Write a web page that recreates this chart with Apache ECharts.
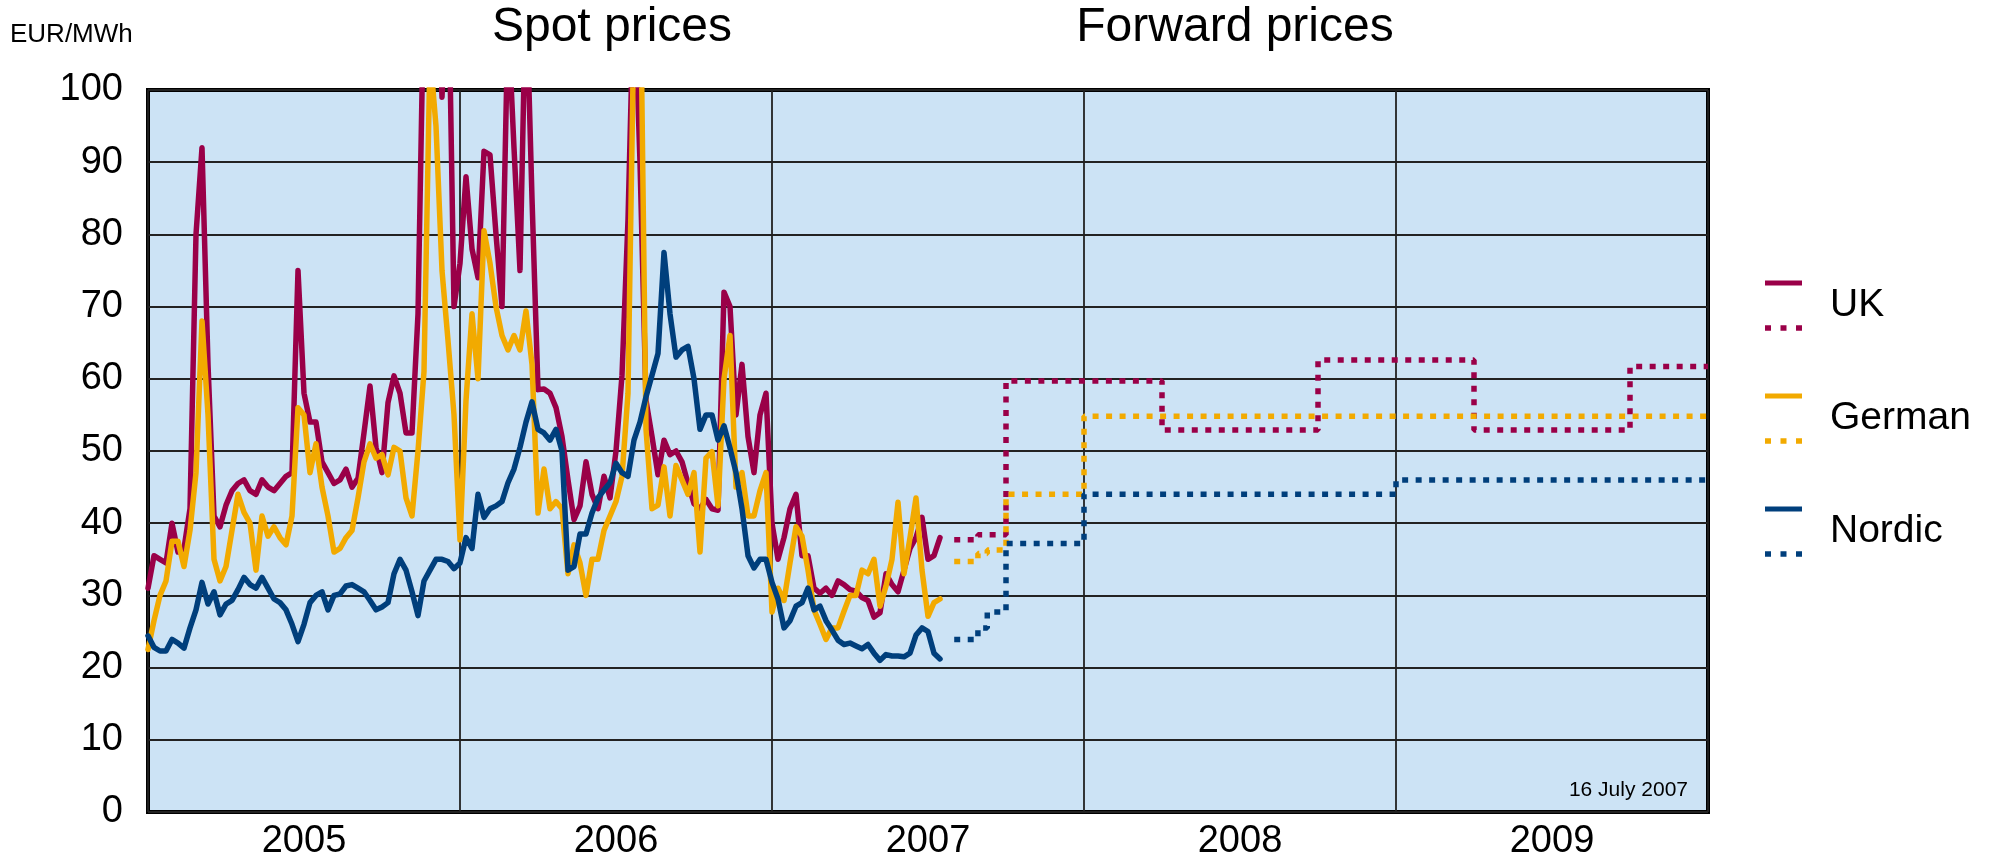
<!DOCTYPE html>
<html>
<head>
    <meta charset="utf-8">
    <title>Spot and forward prices</title>
    <script src="https://cdn.jsdelivr.net/npm/echarts@6/dist/echarts.min.js"></script>
    <style>
        html, body { margin: 0; padding: 0; background: #fff; }
        #chart { width: 1990px; height: 859px; }
    </style>
</head>
<body>
<div id="chart"></div>
<script type="text/javascript">
    // weekly spot prices, EUR/MWh, first reading at start of 2005
    var ukSpot = [31, 35.5, 35, 34.5, 40, 36, 36.5, 42, 80, 92,
        62, 41, 39.5, 42.5, 44.5, 45.5, 46, 44.5, 44, 46,
        45, 44.5, 45.5, 46.5, 47, 75, 58, 54, 54, 48.5,
        47, 45.5, 46, 47.5, 45, 46.2, 52.5, 59, 50.5, 47,
        56.7, 60.4, 58, 52.5, 52.5, 69, 115, 120, 125, 99,
        120, 70, 76, 88, 78, 74, 91.5, 91, 80, 70,
        110, 92, 75, 115, 85, 58.5, 58.6, 58, 56, 52,
        46, 40.5, 42.4, 48.5, 44, 42, 46.5, 43.5, 50, 60.5,
        82, 115, 90, 57, 52, 46.7, 51.5, 49.5, 50, 48.5,
        45.5, 42.7, 42, 43.3, 42, 41.8, 72, 70, 55, 62,
        52, 47, 55, 58, 40, 35, 38, 42, 44, 35.5,
        35.5, 31, 30.3, 31, 30, 32, 31.5, 30.8, 30.6, 29.7,
        29.3, 27, 27.6, 33, 31.5, 30.5, 33.5, 36.5, 38, 40.8,
        35, 35.5, 38];
    var germanSpot = [22.5, 26.5, 30, 32, 37.5, 37.5, 34, 39, 47, 68,
        55, 35, 32, 34, 39, 44, 41.5, 40, 33.5, 41,
        38.2, 39.5, 38, 37, 41, 56, 55, 47, 51, 45,
        41, 36, 36.5, 38, 39, 43.5, 48.5, 51, 49, 49.5,
        46.7, 50.5, 50, 43.5, 41, 50, 61, 105, 95, 75,
        65.3, 55, 37.7, 57, 69, 60, 80.5, 76, 70, 66,
        64, 66, 64, 69.4, 62, 41.4, 47.5, 42, 43, 42,
        33, 37, 34.5, 30, 35, 35, 39, 41, 43, 46.5,
        58, 110, 120, 53, 42, 42.5, 47.8, 41, 48, 46,
        44, 47, 36, 49, 49.9, 42.4, 60, 66, 45, 47,
        41, 41, 44.5, 47, 27.7, 31, 29.3, 34.5, 39.5, 38.2,
        33.5, 28, 26, 23.9, 25.5, 25.5, 27.8, 30, 30, 33.5,
        33, 35, 28.5, 31.3, 35, 42.9, 33, 38, 43.5, 33.5,
        27.1, 29, 29.5];
    var nordicSpot = [24.4, 22.8, 22.3, 22.3, 23.9, 23.4, 22.7, 25.5, 28, 31.8,
        28.8, 30.5, 27.3, 28.8, 29.3, 30.8, 32.5, 31.5, 31, 32.5,
        31, 29.5, 29, 28, 26, 23.6, 26, 29, 30, 30.5,
        28, 30, 30.2, 31.3, 31.5, 31, 30.5, 29.3, 28, 28.4,
        29, 33, 35, 33.5, 30.5, 27.2, 32, 33.5, 35, 35,
        34.7, 33.7, 34.5, 38, 36.5, 44, 40.8, 42, 42.4, 43,
        45.6, 47.5, 50.5, 54, 56.8, 53, 52.5, 51.5, 53, 50,
        33.5, 34, 38.5, 38.5, 41.4, 43.5, 44.6, 45.6, 48.3, 47,
        46.5, 51.5, 54, 57.5, 60.5, 63.5, 77.5, 69, 63, 64,
        64.5, 60, 53, 55, 55, 51.5, 53.5, 50.4, 47, 42,
        35.5, 33.8, 35, 35, 31.8, 29.5, 25.5, 26.5, 28.5, 29,
        31, 28, 28.5, 26.5, 25.2, 23.8, 23.2, 23.4, 23, 22.6,
        23.2, 22, 21, 21.8, 21.6, 21.6, 21.5, 22, 24.5, 25.5,
        25, 22, 21.2];

    // forward contracts: start of each delivery period (decimal year), last entry closes the curve
    var fwdStart = [2007.584, 2007.66, 2007.69, 2007.75, 2008.0, 2008.25, 2008.75, 2009.0, 2009.25, 2009.75, 2010.0];
    var ukFwd     = [37.7, 38.4, 38.4, 59.7, 59.7, 52.9, 62.6, 62.6, 52.9, 61.7, 61.7];
    var germanFwd = [34.7, 35.8, 36.3, 44.0, 54.8, 54.8, 54.8, 54.8, 54.8, 54.8, 54.8];
    var nordicFwd = [23.9, 25.5, 27.7, 37.2, 44.0, 44.0, 44.0, 46.0, 46.0, 46.0, 46.0];

    var years = ['2005', '2006', '2007', '2008', '2009'];

    var colUK = '#9a0048';
    var colDE = '#f2aa00';
    var colNO = '#003f7c';
    var font = '"Liberation Sans", Arial, sans-serif';

    var spotX = ukSpot.map(function (v, i) { return 2005 + i / 52; });
    function spot(vals) { return vals.map(function (v, i) { return [spotX[i], v]; }); }
    function fwd(vals) { return vals.map(function (v, i) { return [fwdStart[i], v]; }); }

    function spotLine(name, vals, color) {
        return {
            name: name, type: 'line', data: spot(vals), showSymbol: false, clip: true,
            lineStyle: { color: color, width: 5.5, join: 'round', cap: 'round' }
        };
    }
    function fwdLine(name, vals, color) {
        return {
            name: name, type: 'line', step: 'end', data: fwd(vals), showSymbol: false, clip: true,
            lineStyle: { color: color, width: 5.5, type: [6, 7.5], cap: 'butt' }
        };
    }

    function legendItem(y, label, color) {
        return [
            { type: 'line', shape: { x1: 1765, y1: y, x2: 1802, y2: y }, style: { stroke: color, lineWidth: 5 } },
            { type: 'line', shape: { x1: 1765, y1: y + 45, x2: 1802, y2: y + 45 }, style: { stroke: color, lineWidth: 5.5, lineDash: [6, 9.5] } },
            { type: 'text', left: 1830, top: y + 3, style: { text: label, font: '39px ' + font, fill: '#000', textVerticalAlign: 'middle' } }
        ];
    }

    var myChart = echarts.init(document.getElementById('chart'));
    myChart.setOption({
        animation: false,
        backgroundColor: '#fff',
        grid: {
            left: 148, right: 282, top: 90, bottom: 47,
            containLabel: false, outerBoundsMode: 'none',
            show: true, backgroundColor: '#cce3f5', borderColor: '#000', borderWidth: 4
        },
        xAxis: [
            {
                type: 'value', min: 2005, max: 2010, interval: 1,
                axisLine: { show: false }, axisTick: { show: false }, axisLabel: { show: false },
                splitLine: { show: true, lineStyle: { color: '#222', width: 1.8 } }
            },
            {
                type: 'category', data: years, position: 'bottom', boundaryGap: true,
                axisLine: { show: false }, axisTick: { show: false }, splitLine: { show: false },
                axisLabel: { fontSize: 38, color: '#000', fontFamily: font, margin: 11 }
            }
        ],
        yAxis: {
            type: 'value', min: 0, max: 100, interval: 10,
            axisLine: { show: false }, axisTick: { show: false },
            axisLabel: { fontSize: 38, color: '#000', fontFamily: font, margin: 25 },
            splitLine: { show: true, lineStyle: { color: '#222', width: 1.8 } }
        },
        graphic: [
            { type: 'text', left: 10, top: 22, style: { text: 'EUR/MWh', font: '26px ' + font, fill: '#000' } },
            { type: 'text', x: 612, y: 28, style: { text: 'Spot prices', font: '48px ' + font, fill: '#000', textAlign: 'center', textVerticalAlign: 'middle' } },
            { type: 'text', x: 1235, y: 28, style: { text: 'Forward prices', font: '48px ' + font, fill: '#000', textAlign: 'center', textVerticalAlign: 'middle' } },
            { type: 'text', x: 1688, y: 790, z: 10, style: { text: '16 July 2007', font: '21px ' + font, fill: '#000', textAlign: 'right', textVerticalAlign: 'middle' } }
        ].concat(legendItem(283, 'UK', colUK), legendItem(396, 'German', colDE), legendItem(509, 'Nordic', colNO)),
        series: [
            spotLine('UK', ukSpot, colUK),
            spotLine('German', germanSpot, colDE),
            spotLine('Nordic', nordicSpot, colNO),
            fwdLine('UK forward', ukFwd, colUK),
            fwdLine('German forward', germanFwd, colDE),
            fwdLine('Nordic forward', nordicFwd, colNO)
        ]
    });
</script>
</body>
</html>
